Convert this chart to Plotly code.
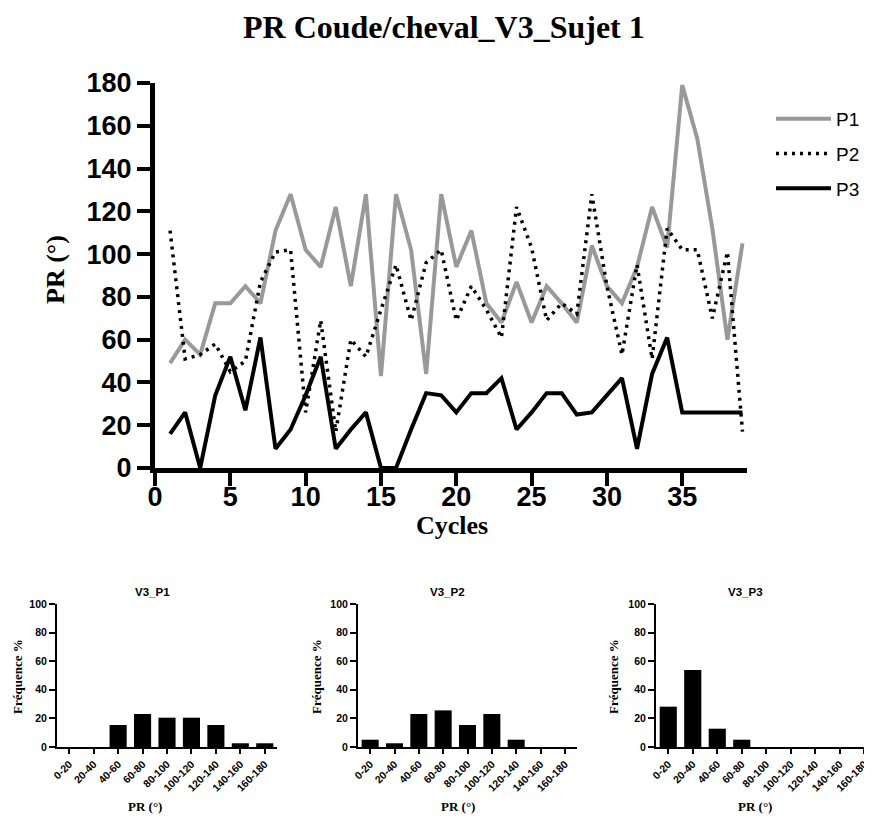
import plotly.graph_objects as go

# the page adds an 8px body margin, so the figure is a bit smaller than the window
OFF = 8
W, H = 872 - OFF, 817 - OFF

# main chart data
cycles = list(range(1, 40))
p1 = [49, 60, 53, 77, 77, 85, 77, 111, 128, 102, 94, 122, 85, 128, 43, 128, 102, 44, 128, 94,
      111, 77, 68, 87, 68, 85, 77, 68, 104, 85, 77, 94, 122, 103, 179, 154, 112, 60, 105]
p2 = [111, 51, 53, 58, 45, 50, 87, 101, 102, 26, 69, 17, 60, 52, 74, 95, 69, 96, 102, 69,
      85, 74, 61, 122, 103, 69, 77, 72, 128, 85, 53, 95, 51, 112, 102, 102, 70, 101, 17]
p3 = [16, 26, 0, 34, 52, 27, 61, 9, 18, 34, 52, 9, 18, 26, 0, 0, 18, 35, 34, 26,
      35, 35, 42, 18, 26, 35, 35, 25, 26, 34, 42, 9, 44, 61, 26, 26, 26, 26, 26]

# histogram data (percent of cycles per class)
bins = ["0-20", "20-40", "40-60", "60-80", "80-100", "100-120", "120-140", "140-160", "160-180"]
freq_p1 = [0, 0, 15.4, 23.1, 20.5, 20.5, 15.4, 2.6, 2.6]
freq_p2 = [5.1, 2.6, 23.1, 25.6, 15.4, 23.1, 5.1, 0, 0]
freq_p3 = [28.2, 53.8, 12.8, 5.1, 0, 0, 0, 0, 0]
hist_titles = ["V3_P1", "V3_P2", "V3_P3"]


def px_x(v):
    return (v - OFF) / W


def px_y(v):
    return 1 - (v - OFF) / H


SANS = "Liberation Sans"
SERIF = "Liberation Serif"

fig = go.Figure()

fig.add_trace(go.Scatter(x=cycles, y=p1, mode="lines", name="P1", legendgroup="a",
                         line=dict(color="#999999", width=4)))
fig.add_trace(go.Scatter(x=cycles, y=p2, mode="lines", name="P2", legendgroup="b",
                         line=dict(color="black", width=3.5, dash="3px,5px")))
fig.add_trace(go.Scatter(x=cycles, y=p3, mode="lines", name="P3", legendgroup="c",
                         line=dict(color="black", width=4)))

for i, vals in enumerate([freq_p1, freq_p2, freq_p3]):
    n = str(i + 2)
    fig.add_trace(go.Bar(x=bins, y=vals, marker=dict(color="black", line=dict(width=0)),
                         width=0.7, showlegend=False, xaxis="x" + n, yaxis="y" + n))

main_tick = dict(family=SANS, size=27, color="black", weight="bold")
small_tick = dict(family=SANS, size=10.5, color="black", weight="bold")

layout = dict(
    width=W, height=H, autosize=False,
    margin=dict(l=0, r=0, t=0, b=0, autoexpand=False),
    plot_bgcolor="white", paper_bgcolor="white",
    legend=dict(x=px_x(771), y=px_y(100), xanchor="left", yanchor="top", itemwidth=55,
                font=dict(family=SANS, size=19, color="black"),
                tracegroupgap=7, bgcolor="rgba(0,0,0,0)"),
    xaxis=dict(domain=[px_x(155), px_x(747)], range=[0, 39.3], tick0=0, dtick=5,
               showgrid=False, zeroline=False, showline=True, linewidth=5, linecolor="black",
               ticks="outside", ticklen=13, tickwidth=4, tickcolor="black",
               tickfont=main_tick, anchor="y", automargin=False, ticklabelstandoff=-12),
    yaxis=dict(domain=[px_y(468), px_y(83)], range=[0, 180], tick0=0, dtick=20,
               showgrid=False, zeroline=False, showline=True, linewidth=5, linecolor="black",
               ticks="outside", ticklen=13, tickwidth=4, tickcolor="black",
               tickfont=main_tick, anchor="x", automargin=False),
)

hist_left = [57, 358, 656]
hist_right = [277, 577, 866]
hist_rng_end = [8.5, 8.5, 8.07]
for i in range(3):
    n = str(i + 2)
    layout["xaxis" + n] = dict(
        domain=[px_x(hist_left[i]), px_x(hist_right[i])], range=[-0.5, hist_rng_end[i]],
        type="category", showgrid=False, zeroline=False, showline=True, linewidth=2,
        linecolor="black", ticks="outside", ticklen=5, tickwidth=2, tickcolor="black",
        tickangle=-45, tickfont=small_tick, anchor="y" + n, automargin=False)
    layout["yaxis" + n] = dict(
        domain=[px_y(747), px_y(604)], range=[0, 100], tick0=0, dtick=20,
        showgrid=False, zeroline=False, showline=True, linewidth=2, linecolor="black",
        ticks="outside", ticklen=6, tickwidth=2, tickcolor="black",
        tickfont=small_tick, anchor="x" + n, automargin=False)

annotations = [
    dict(text="<b>PR Coude/cheval_V3_Sujet 1</b>", x=px_x(444), y=px_y(27),
         font=dict(family=SERIF, size=32, color="black")),
    dict(text="<b>PR (°)</b>", x=px_x(56), y=px_y(270), textangle=-90,
         font=dict(family=SERIF, size=26, color="black")),
    dict(text="<b>Cycles</b>", x=px_x(452), y=px_y(525),
         font=dict(family=SERIF, size=26, color="black")),
]
title_x = [152, 447, 745]
xlab_x = [145, 458, 755]
ylab_x = [17, 316, 613]
for i in range(3):
    annotations.append(dict(text="<b>" + hist_titles[i] + "</b>", x=px_x(title_x[i]), y=px_y(592),
                            font=dict(family=SANS, size=11.5, color="black")))
    annotations.append(dict(text="<b>PR (°)</b>", x=px_x(xlab_x[i]), y=px_y(806),
                            font=dict(family=SERIF, size=13, color="black")))
    annotations.append(dict(text="<b>Fréquence %</b>", x=px_x(ylab_x[i]), y=px_y(677),
                            textangle=-90, font=dict(family=SERIF, size=13, color="black")))
for a in annotations:
    a.update(xref="paper", yref="paper", showarrow=False, xanchor="center", yanchor="middle")
layout["annotations"] = annotations

fig.update_layout(**layout)
fig.write_html("out.html")
